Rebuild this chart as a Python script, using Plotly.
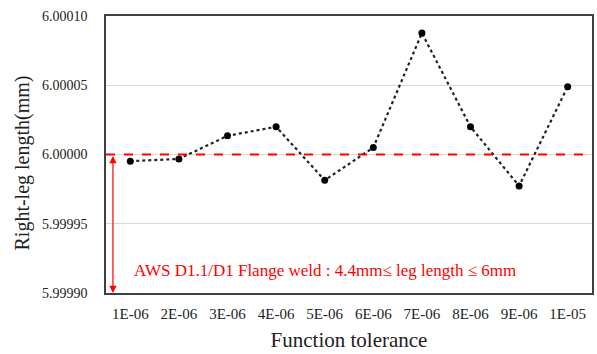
import plotly.graph_objects as go

categories = ["1E-06", "2E-06", "3E-06", "4E-06", "5E-06", "6E-06", "7E-06", "8E-06", "9E-06", "1E-05"]
values = [5.9999952, 5.9999968, 6.0000135, 6.0000200, 5.9999814, 6.0000050,
          6.0000877, 6.0000200, 5.9999773, 6.0000490]
y_ticks = [5.99990, 5.99995, 6.00000, 6.00005, 6.00010]
y_ticklabels = ["5.99990", "5.99995", "6.00000", "6.00005", "6.00010"]
ref_value = 6.00000
lower_value = 5.99990
note = "AWS D1.1/D1 Flange weld : 4.4mm\u2264 leg length \u2264 6mm"

FONT = "Liberation Serif, Times New Roman, serif"
xs = list(range(len(categories)))

fig = go.Figure()
fig.add_trace(go.Scatter(
    x=xs, y=values, mode="lines+markers",
    line=dict(color="#222222", width=2.2, dash="dot"),
    marker=dict(color="black", size=7),
    showlegend=False, cliponaxis=False,
))

fig.add_shape(type="line", xref="paper", x0=0, x1=1, yref="y", y0=ref_value, y1=ref_value,
              line=dict(color="#ff0000", width=2.2, dash="dash"))

fig.add_annotation(x=-0.357, y=lower_value, ax=-0.357, ay=ref_value,
                   xref="x", yref="y", axref="x", ayref="y",
                   text="", showarrow=True, arrowhead=2, startarrowhead=2,
                   arrowside="end+start", arrowsize=1.2, arrowwidth=1.2,
                   arrowcolor="#ff0000")

fig.add_annotation(x=0.03, y=5.9999165, xref="x", yref="y", text=note,
                   showarrow=False, xanchor="left", yanchor="middle",
                   font=dict(family=FONT, size=17, color="#ff0000"))

fig.add_annotation(x=-0.172, y=0.469, xref="paper", yref="paper", text="Right-leg length(mm)",
                   showarrow=False, textangle=-90, xanchor="center", yanchor="middle",
                   font=dict(family=FONT, size=20, color="#222222"))

fig.update_layout(
    width=597, height=354,
    margin=dict(l=106, r=3, t=16, b=61),
    paper_bgcolor="white", plot_bgcolor="white",
    font=dict(family=FONT, color="#222222"),
    xaxis=dict(
        tickmode="array", tickvals=xs, ticktext=categories,
        range=[-0.5, len(categories) - 0.5],
        showgrid=False, showline=True, linecolor="#404040", linewidth=1.5, mirror=True,
        ticks="outside", ticklen=6, tickcolor="rgba(0,0,0,0)",
        tickfont=dict(family=FONT, size=15, color="#222222"),
        title=dict(text="Function tolerance", font=dict(family=FONT, size=21, color="#222222"), standoff=12),
        zeroline=False,
    ),
    yaxis=dict(
        tickmode="array", tickvals=y_ticks, ticktext=y_ticklabels,
        range=[lower_value, 6.00010],
        showgrid=True, gridcolor="#d9d9d9", gridwidth=1,
        showline=True, linecolor="#404040", linewidth=1.5, mirror=True,
        ticks="outside", ticklen=14, tickcolor="rgba(0,0,0,0)",
        tickfont=dict(family=FONT, size=14, color="#222222"),
        zeroline=False,
    ),
)

fig.write_html("out.html")
